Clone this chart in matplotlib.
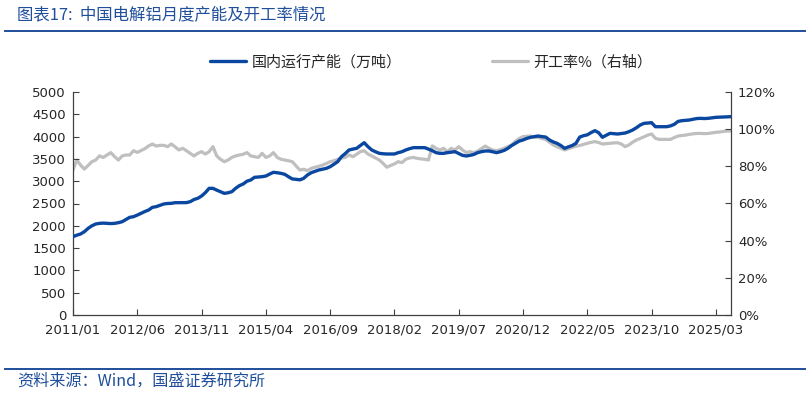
import matplotlib
matplotlib.use("Agg")
import matplotlib.pyplot as plt
from matplotlib.lines import Line2D
import numpy as np
import pandas as pd

plt.rcParams['font.family'] = ['DejaVu Sans', 'Noto Sans CJK SC']

# Monthly data 2011/01 - 2025/07
start_month = "2011-01"
capacity = [
    1756, 1790, 1816, 1868, 1943, 2000, 2040, 2055, 2060, 2055, 2050, 2055,
    2070, 2092, 2140, 2190, 2204, 2240, 2279, 2320, 2354, 2414, 2429, 2460,
    2489, 2500, 2504, 2518, 2518, 2518, 2520, 2541, 2590, 2616, 2668, 2743,
    2840, 2840, 2800, 2765, 2728, 2740, 2765, 2840, 2900, 2937, 3000, 3027,
    3087, 3095, 3101, 3116, 3160, 3199, 3190, 3176, 3154, 3100, 3050, 3042,
    3030, 3064, 3139, 3191, 3220, 3251, 3270, 3288, 3325, 3380, 3438, 3550,
    3620, 3700, 3720, 3737, 3800, 3864, 3774, 3700, 3660, 3625, 3615, 3610,
    3610, 3610, 3640, 3662, 3700, 3729, 3752, 3752, 3750, 3752, 3720, 3685,
    3640, 3625, 3625, 3640, 3650, 3662, 3620, 3580, 3565, 3580, 3600, 3640,
    3662, 3677, 3677, 3660, 3640, 3662, 3690, 3737, 3800, 3849, 3900, 3924,
    3960, 3984, 4000, 4013, 4000, 3990, 3924, 3880, 3849, 3800, 3737, 3770,
    3800, 3849, 3990, 4020, 4040, 4090, 4133, 4088, 3984, 4030, 4073, 4065,
    4058, 4070, 4080, 4110, 4148, 4200, 4260, 4297, 4305, 4312, 4222, 4222,
    4222, 4222, 4240, 4275, 4340, 4357, 4365, 4372, 4390, 4405, 4409, 4405,
    4410, 4420, 4432, 4435, 4440, 4443, 4447,
]
utilization = [
    78.0, 83.4, 80.7, 78.5, 80.5, 82.5, 83.4, 85.6, 84.8, 86.1, 87.4, 85.2,
    83.4, 85.6, 86.1, 86.1, 88.4, 87.5, 88.5, 89.5, 91.0, 92.0, 90.9, 91.3,
    91.3, 90.6, 92.0, 90.5, 88.8, 89.7, 88.4, 87.0, 85.6, 87.0, 87.9, 86.6,
    87.9, 90.6, 85.6, 83.8, 82.5, 83.4, 84.8, 85.6, 86.1, 86.5, 87.4, 85.6,
    85.2, 84.8, 87.0, 84.8, 85.6, 87.4, 84.8, 83.8, 83.4, 83.0, 82.5, 80.2,
    78.0, 78.4, 77.7, 78.9, 79.5, 80.0, 80.7, 81.5, 82.5, 83.0, 83.8, 84.5,
    84.8, 86.1, 85.2, 86.5, 87.9, 88.4, 86.6, 85.6, 84.5, 83.4, 81.6, 79.5,
    80.5, 81.3, 82.5, 82.0, 83.8, 84.5, 84.8, 84.3, 84.0, 83.8, 83.4, 91.0,
    89.7, 88.8, 89.7, 87.9, 89.7, 88.8, 90.6, 88.8, 87.4, 87.9, 87.4, 88.2,
    89.5, 90.9, 89.7, 88.8, 88.4, 89.0, 89.7, 90.6, 91.5, 93.5, 95.0, 96.0,
    96.2, 96.3, 95.6, 95.6, 95.0, 94.5, 93.0, 91.5, 90.5, 89.7, 88.8, 89.5,
    90.2, 90.8, 91.2, 91.8, 92.4, 92.9, 93.3, 92.8, 92.0, 92.2, 92.4, 92.6,
    92.7, 92.0, 90.6, 91.5, 93.0, 94.2, 95.0, 95.9, 96.8, 97.4, 95.1, 94.5,
    94.5, 94.5, 94.5, 95.5, 96.3, 96.6, 96.8, 97.2, 97.5, 97.7, 97.7, 97.6,
    97.7, 98.0, 98.3, 98.5, 98.8, 99.0, 99.0,
]
left_ticks = [0, 500, 1000, 1500, 2000, 2500, 3000, 3500, 4000, 4500, 5000]
right_ticks = [0, 20, 40, 60, 80, 100, 120]
tick_step = 17

series_cap = "国内运行产能（万吨）"
series_util = "开工率%（右轴）"
title = "图表17:  中国电解铝月度产能及开工率情况"
source = "资料来源：Wind，国盛证券研究所"

months = pd.period_range(start=start_month, periods=len(capacity), freq="M")
labels = [f"{p.year}/{p.month:02d}" for p in months]
x = np.arange(len(capacity))

W, H = 810, 393
fig = plt.figure(figsize=(W / 100, H / 100), dpi=100)
ax = fig.add_axes([73 / W, 1 - 315 / H, (731 - 73) / W, (315 - 92) / H])
ax2 = ax.twinx()

blue = "#0A47A0"
gray = "#BFBFBF"
txt = "#262626"

l2, = ax2.plot(x, utilization, color=gray, lw=2.3, solid_capstyle="round", zorder=1)
l1, = ax.plot(x, capacity, color=blue, lw=2.4, solid_capstyle="round", zorder=3)
ax.set_zorder(ax2.get_zorder() + 1)
ax.patch.set_visible(False)

ax.set_xlim(0, len(capacity) - 1)
ax.set_ylim(0, 5000)
ax2.set_ylim(0, 120)
ax.set_yticks(left_ticks)
ax.set_yticklabels([str(v) for v in left_ticks])
ax2.set_yticks(right_ticks)
ax2.set_yticklabels([f"{v}%" for v in right_ticks])
xt = list(range(0, len(capacity), tick_step))
ax.set_xticks(xt)
ax.set_xticklabels([labels[i] for i in xt])

for a in (ax, ax2):
    a.spines["top"].set_visible(False)
    for s in ("left", "right", "bottom"):
        a.spines[s].set_color("#404040")
        a.spines[s].set_linewidth(0.9)
ax.spines["right"].set_visible(False)
ax2.spines["left"].set_visible(False)
ax2.spines["bottom"].set_visible(False)

ax.tick_params(axis="y", direction="in", length=4, width=0.8, colors="#404040",
               labelcolor=txt, labelsize=9.5, pad=5)
ax.tick_params(axis="x", direction="in", length=4, width=0.8, colors="#404040",
               labelcolor=txt, labelsize=9.5, pad=6)
ax2.tick_params(axis="y", direction="in", length=4, width=0.8, colors="#404040",
                labelcolor=txt, labelsize=9.5, pad=5)

fig.legend([l1, l2], [series_cap, series_util], loc="center", ncol=2,
           bbox_to_anchor=(431 / W, 1 - 62 / H), frameon=False,
           prop={"family": ["Noto Sans CJK SC", "DejaVu Sans"], "size": 10.8},
           handlelength=2.4, columnspacing=6.0, handletextpad=0.4, labelcolor=txt)

title_blue = "#1F4E9A"
fig.text(17 / W, 1 - 15 / H, title, color=title_blue, fontsize=11.8, va="center", ha="left",
         family=["Noto Sans CJK SC", "DejaVu Sans"])
fig.add_artist(Line2D([5 / W, 805 / W], [1 - 30.5 / H] * 2, color=title_blue, lw=1.4))
fig.add_artist(Line2D([5 / W, 805 / W], [1 - 369 / H] * 2, color=title_blue, lw=1.4))
fig.text(17 / W, 1 - 381 / H, source, color=title_blue, fontsize=11.6, va="center", ha="left",
         family=["Noto Sans CJK SC", "DejaVu Sans"])

fig.savefig("out.png", dpi=100)
